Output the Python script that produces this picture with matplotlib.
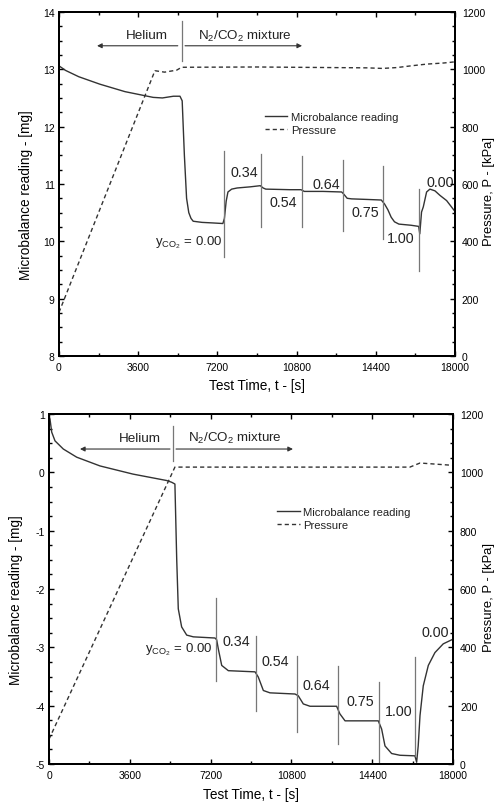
#!/usr/bin/env python3

from matplotlib import pyplot as plt
from matplotlib.lines import Line2D
from matplotlib.ticker import MultipleLocator
import matplotlib


FIGSIZE = (4.94, 8.04)
LINE_COLOR = "#333333"
MARK_COLOR = "#777777"

# ---- upper panel -------------------------------------------------------
top_t = [0, 300, 900, 1860, 3000, 4280, 4700, 5200, 5500, 5600, 5700, 5800,
         5900, 6000, 6100, 6500, 7000, 7450, 7520, 7600, 7680, 7850, 8100,
         8700, 9150, 9280, 9400, 10500, 11000, 11150, 12000, 12850, 12950,
         13100, 13300, 14000, 14650, 14800, 14950, 15100, 15250, 15450,
         16000, 16350, 16400, 16480, 16560, 16710, 16860, 17090, 17320,
         17620, 17920, 18000]
top_mg = [13.06, 12.98, 12.87, 12.74, 12.61, 12.51, 12.50, 12.53, 12.53,
          12.45, 11.50, 10.75, 10.50, 10.40, 10.35, 10.33, 10.32, 10.31,
          10.40, 10.70, 10.86, 10.91, 10.93, 10.95, 10.97, 10.93, 10.91,
          10.90, 10.90, 10.87, 10.87, 10.86, 10.82, 10.75, 10.74, 10.73,
          10.72, 10.65, 10.55, 10.42, 10.34, 10.30, 10.28, 10.26, 10.13,
          10.51, 10.60, 10.86, 10.91, 10.88, 10.80, 10.71, 10.56, 10.52]
top_p_t = [0, 4360, 4800, 5350, 5575, 9000, 14000, 14700, 15360, 16000,
           16710, 17500, 18000]
top_p = [152, 995, 990, 997, 1007, 1008, 1005, 1003, 1006, 1012, 1018, 1022,
         1026]
top_vline_t = [7500, 9200, 11050, 12900, 14725, 16360]
top_vline_lo = [9.73, 10.25, 10.25, 10.18, 10.04, 9.48]
top_vline_hi = [11.58, 11.52, 11.49, 11.42, 11.31, 10.91]
top_lab_t = [8430, 10200, 12135, 13910, 15520, 17320]
top_lab_mg = [11.21, 10.69, 11.00, 10.51, 10.06, 11.03]
top_y0_pos = (7410, 10.00)

# ---- lower panel -------------------------------------------------------
bot_t = [0, 45, 120, 267, 637, 1234, 2272, 3742, 5243, 5466, 5610, 5690,
         5760, 5910, 6135, 6430, 7395, 7470, 7545, 7695, 7990, 9180, 9325,
         9550, 9845, 10960, 11105, 11330, 11630, 12815, 12960, 13190, 14670,
         14820, 14970, 15265, 15635, 16305, 16380, 16450, 16530, 16675,
         16900, 17195, 17565, 18000]
bot_mg = [0.95, 0.91, 0.69, 0.54, 0.40, 0.26, 0.11, -0.03, -0.14, -0.17,
          -0.20, -1.49, -2.34, -2.65, -2.79, -2.82, -2.84, -2.87, -3.03,
          -3.31, -3.40, -3.42, -3.51, -3.74, -3.78, -3.80, -3.83, -3.97,
          -4.01, -4.01, -4.14, -4.26, -4.26, -4.40, -4.69, -4.82, -4.85,
          -4.86, -4.97, -4.69, -4.17, -3.66, -3.31, -3.09, -2.94, -2.86]
bot_p_t = [0, 5610, 16080, 16530, 18000]
bot_p = [85, 1018, 1018, 1032, 1024]
bot_vline_t = [7420, 9220, 11050, 12860, 14715, 16305]
bot_vline_lo = [-3.58, -4.09, -4.45, -4.66, -4.97, -4.86]
bot_vline_hi = [-2.15, -2.81, -3.15, -3.32, -3.60, -3.17]
bot_lab_t = [8350, 10070, 11920, 13855, 15570, 17195]
bot_lab_mg = [-2.89, -3.23, -3.65, -3.92, -4.09, -2.74]
bot_y0_pos = (7260, -3.03)

step_labels = ["0.34", "0.54", "0.64", "0.75", "1.00", "0.00"]
x_ticks = [0, 3600, 7200, 10800, 14400, 18000]


def setup():
    matplotlib.rcParams.update({
        "font.family": ["Liberation Sans", "DejaVu Sans"],
        "mathtext.fontset": "custom",
        "mathtext.rm": "Liberation Sans",
        "mathtext.it": "Liberation Sans",
        "axes.unicode_minus": False,
        "text.color": "#222222",
        "axes.linewidth": 1.4,
        "xtick.direction": "in",
        "ytick.direction": "in",
        "xtick.major.size": 3.6,
        "ytick.major.size": 3.6,
        "xtick.minor.size": 2.2,
        "ytick.minor.size": 2.2,
        "xtick.major.width": 1.0,
        "ytick.major.width": 1.0,
        "xtick.minor.width": 1.0,
        "ytick.minor.width": 1.0,
        "xtick.labelsize": 7.5,
        "ytick.labelsize": 7.5,
    })


def draw_panel(fig, rect, t, mg, p_t, p, ylim, yticks, vt, vlo, vhi,
               lab_t, lab_mg, y0_pos, arrow_y, text_y, div_t, div_lim,
               helium_arrow, mix_arrow, helium_x, mix_x, legend_at,
               ylabel_x, pres_x, xlabel_y):
    ax = fig.add_axes(rect)
    ax2 = ax.twinx()

    ax.plot(t, mg, "-", color=LINE_COLOR, lw=1.0)
    ax2.plot(p_t, p, "--", color=LINE_COLOR, lw=1.0, dashes=(3, 2.2))

    for i in range(len(vt)):
        ax.plot([vt[i], vt[i]], [vlo[i], vhi[i]], "-", color=MARK_COLOR,
                lw=0.9)
        ax.text(lab_t[i], lab_mg[i], step_labels[i], ha="center",
                va="center", fontsize=10.3)
    ax.text(y0_pos[0], y0_pos[1], r"y$_{\mathrm{CO_2}}$ = 0.00", ha="right",
            va="center", fontsize=9.5)

    # Helium / mixture annotation
    ax.plot([div_t, div_t], div_lim, "-", color=MARK_COLOR, lw=0.9)
    arrow = dict(arrowstyle="-|>", color=LINE_COLOR, lw=0.8,
                 mutation_scale=7, shrinkA=0, shrinkB=0)
    ax.annotate("", xy=(helium_arrow[1], arrow_y),
                xytext=(helium_arrow[0], arrow_y), arrowprops=arrow)
    ax.annotate("", xy=(mix_arrow[1], arrow_y),
                xytext=(mix_arrow[0], arrow_y), arrowprops=arrow)
    ax.text(helium_x, text_y, "Helium", ha="center", va="center",
            fontsize=9.7)
    ax.text(mix_x, text_y, r"N$_2$/CO$_2$ mixture", ha="left", va="center",
            fontsize=9.6)

    ax.set_xlim(0, 18000)
    ax.set_ylim(*ylim)
    ax.set_xticks(x_ticks)
    ax.xaxis.set_minor_locator(MultipleLocator(1800))
    ax.set_yticks(yticks)
    ax.yaxis.set_minor_locator(MultipleLocator(0.25))
    ax.tick_params(axis="x", which="both", top=True, pad=4)
    ax.tick_params(axis="y", which="both", pad=3)

    ax2.set_ylim(0, 1200)
    ax2.set_yticks(range(0, 1201, 200))
    ax2.yaxis.set_minor_locator(MultipleLocator(50))
    ax2.tick_params(axis="y", which="both", pad=5)

    ax.set_ylabel("Microbalance reading - [mg]", fontsize=9.8)
    ax.yaxis.set_label_coords(ylabel_x, 0.47)
    ax.set_xlabel("Test Time, t - [s]", fontsize=9.8)
    ax.xaxis.set_label_coords(0.5, xlabel_y)
    ax2.set_ylabel("Pressure, P - [kPa]", fontsize=9.4)
    ax2.yaxis.set_label_coords(pres_x, 0.48)

    handles = [Line2D([], [], color=LINE_COLOR, lw=1.0),
               Line2D([], [], color=LINE_COLOR, lw=1.0, ls="--",
                      dashes=(3, 2.2))]
    ax2.legend(handles, ["Microbalance reading", "Pressure"],
               loc="upper left", bbox_to_anchor=legend_at, frameon=False,
               fontsize=8.1, handlelength=2.0, handletextpad=0.3,
               labelspacing=0.3, borderpad=0, borderaxespad=0)
    return ax, ax2


def main():
    setup()
    fig = plt.figure(figsize=FIGSIZE, dpi=100)

    draw_panel(fig, [0.1194, 0.556, 0.8016, 0.4279],
               top_t, top_mg, top_p_t, top_p, (8, 14), range(8, 15),
               top_vline_t, top_vline_lo, top_vline_hi,
               top_lab_t, top_lab_mg, top_y0_pos,
               arrow_y=13.41, text_y=13.59, div_t=5575,
               div_lim=[13.15, 13.85], helium_arrow=(5400, 1730),
               mix_arrow=(5730, 11050), helium_x=4000, mix_x=6320,
               legend_at=(0.52, 0.71), ylabel_x=-0.066, pres_x=1.072,
               xlabel_y=-0.065)

    draw_panel(fig, [0.0992, 0.0485, 0.8178, 0.4353],
               bot_t, bot_mg, bot_p_t, bot_p, (-5, 1), range(-5, 2),
               bot_vline_t, bot_vline_lo, bot_vline_hi,
               bot_lab_t, bot_lab_mg, bot_y0_pos,
               arrow_y=0.40, text_y=0.59, div_t=5510,
               div_lim=[0.2, 0.8], helium_arrow=(5390, 1380),
               mix_arrow=(5660, 10870), helium_x=4030, mix_x=6200,
               legend_at=(0.565, 0.735), ylabel_x=-0.064, pres_x=1.075,
               xlabel_y=-0.065)

    fig.savefig("out.png", dpi=100)


if __name__ == "__main__":
    main()
